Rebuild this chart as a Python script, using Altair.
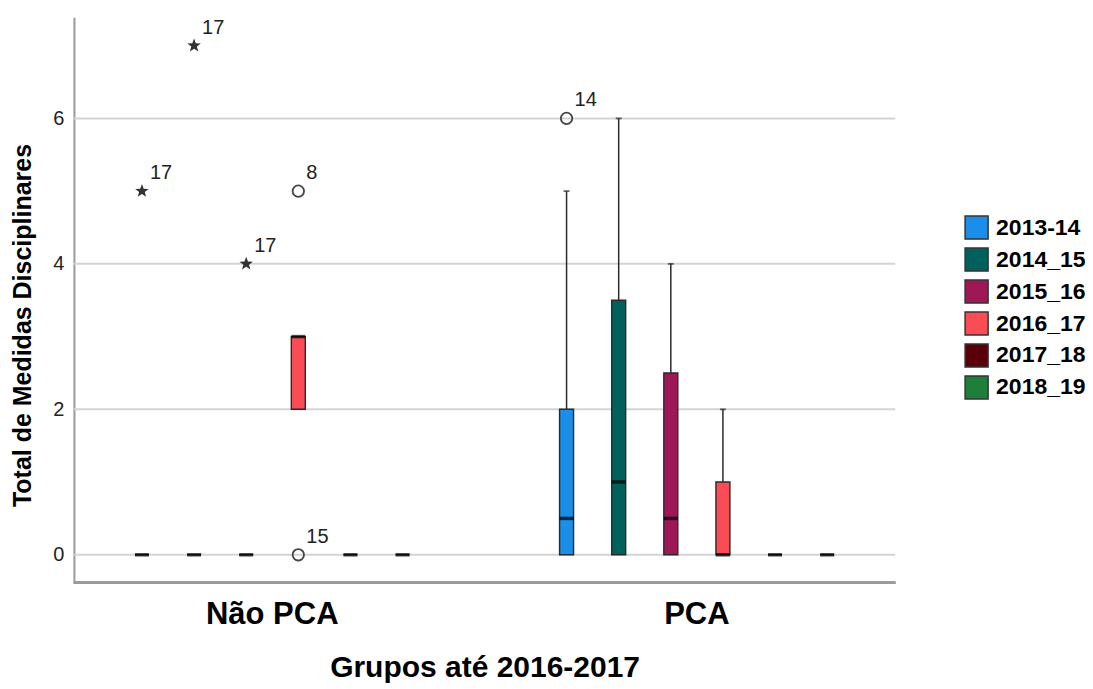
import altair as alt
import pandas as pd

FONT = "Liberation Sans"
STAR = ("M0,-1L0.247,-0.34L0.951,-0.309L0.399,0.13L0.588,0.809L0,0.42"
        "L-0.588,0.809L-0.399,0.13L-0.951,-0.309L-0.247,-0.34Z")

years = ["2013-14", "2014_15", "2015_16", "2016_17", "2017_18", "2018_19"]
colors = ["#1a8ee8", "#00605c", "#9e1858", "#fb4b55", "#5a0008", "#1e7f3b"]
group_names = ["Não PCA", "PCA"]
y_ticks = [0, 2, 4, 6]

box_group = ["Não PCA"] * 6 + ["PCA"] * 6
box_year = years * 2
q1 = [0, 0, 0, 2, 0, 0, 0, 0, 0, 0, 0, 0]
median = [0, 0, 0, 3, 0, 0, 0.5, 1, 0.5, 0, 0, 0]
q3 = [0, 0, 0, 3, 0, 0, 2, 3.5, 2.5, 1, 0, 0]
whisker_low = [0, 0, 0, 2, 0, 0, 0, 0, 0, 0, 0, 0]
whisker_high = [0, 0, 0, 3, 0, 0, 5, 6, 4, 2, 0, 0]

out_group = ["Não PCA", "Não PCA", "Não PCA", "Não PCA", "Não PCA", "PCA"]
out_year = ["2013-14", "2014_15", "2015_16", "2016_17", "2016_17", "2013-14"]
out_value = [5, 7, 4, 5, 0, 6]
out_label = ["17", "17", "17", "8", "15", "14"]
out_kind = ["extremo", "extremo", "extremo", "atipico", "atipico", "atipico"]

boxes_df = pd.DataFrame({
    "grupo": box_group, "ano": box_year, "q1": q1, "mediana": median,
    "q3": q3, "wlo": whisker_low, "whi": whisker_high,
})
out_df = pd.DataFrame({
    "grupo": out_group, "ano": out_year, "valor": out_value,
    "rotulo": out_label, "tipo": out_kind,
})
grid_df = pd.DataFrame({"g": y_ticks})

y_title = "Total de Medidas Disciplinares"
y_scale = alt.Scale(domain=[-0.385, 7.39], nice=False, zero=False)
y_axis = alt.Axis(values=y_ticks, format="d", grid=False,
                  domain=True, domainColor="#9a9a9a", domainWidth=2,
                  ticks=False, labelFontSize=20, labelFont=FONT, labelColor="#222222",
                  labelPadding=10, titleFontSize=25, titleFont=FONT,
                  titleFontWeight="bold", titleColor="#000000", titlePadding=17,
                  titleY=308)

x_enc = alt.X("grupo:N", title="Grupos até 2016-2017",
              scale=alt.Scale(domain=group_names, range=[-14, 836],
                              paddingInner=0, paddingOuter=0),
              axis=alt.Axis(domain=False, ticks=False, grid=False, labelAngle=0,
                            labelFontSize=31, labelFontWeight="bold", labelFont=FONT,
                            labelColor="#000000", labelPadding=17, titleFontSize=30,
                            titleFontWeight="bold", titleFont=FONT,
                            titleColor="#000000", titlePadding=23))
xo_enc = alt.XOffset("ano:N", scale=alt.Scale(domain=years, range=[56, 369],
                                               paddingInner=0, paddingOuter=0))

grid = alt.Chart(grid_df).mark_rule(color="#d4d4d4", strokeWidth=2).encode(
    y=alt.Y("g:Q", scale=y_scale, axis=y_axis, title=y_title),
    x=alt.value(0), x2=alt.value(822),
)

base_box = alt.Chart(boxes_df)

whisk = base_box.mark_rule(color="#2a2a2a", strokeWidth=1.5).encode(
    x=x_enc, xOffset=xo_enc,
    y=alt.Y("q3:Q", scale=y_scale, axis=y_axis, title=y_title),
    y2="whi:Q",
).transform_filter("datum.whi > datum.q3")

caps = base_box.mark_tick(color="#2a2a2a", size=6, thickness=1.8).encode(
    x=x_enc, xOffset=xo_enc,
    y=alt.Y("whi:Q", scale=y_scale, axis=y_axis, title=y_title),
).transform_filter("datum.whi > datum.q3")

bars = base_box.mark_bar(size=14, stroke="#2a2a2a", strokeWidth=1.4).encode(
    x=x_enc, xOffset=xo_enc,
    y=alt.Y("q1:Q", scale=y_scale, axis=y_axis, title=y_title),
    y2="q3:Q",
    color=alt.Color("ano:N", scale=alt.Scale(domain=years, range=colors),
                    legend=alt.Legend(title=None, orient="none", legendX=891,
                                      legendY=198, symbolType="square",
                                      symbolSize=529, symbolStrokeColor="#333333",
                                      symbolStrokeWidth=1.5, labelFontSize=23,
                                      labelFontWeight="bold", labelFont=FONT,
                                      labelColor="#000000", rowPadding=3,
                                      labelOffset=7, padding=0)),
)

meds = base_box.mark_tick(color="#000000", size=14, thickness=3.5).encode(
    x=x_enc, xOffset=xo_enc,
    y=alt.Y("mediana:Q", scale=y_scale, axis=y_axis, title=y_title),
)

base_out = alt.Chart(out_df)

circles = base_out.mark_point(shape="circle", filled=False, size=130,
                              stroke="#444444", strokeWidth=1.8, opacity=1).encode(
    x=x_enc, xOffset=xo_enc,
    y=alt.Y("valor:Q", scale=y_scale, axis=y_axis, title=y_title),
).transform_filter("datum.tipo == 'atipico'")

stars = base_out.mark_point(shape=STAR, filled=True, size=200,
                            color="#333333", opacity=1).encode(
    x=x_enc, xOffset=xo_enc,
    y=alt.Y("valor:Q", scale=y_scale, axis=y_axis, title=y_title),
).transform_filter("datum.tipo == 'extremo'")

labels = base_out.mark_text(align="left", baseline="alphabetic", dx=8, dy=-12,
                            fontSize=20, font=FONT, color="#222222").encode(
    x=x_enc, xOffset=xo_enc,
    y=alt.Y("valor:Q", scale=y_scale, axis=y_axis, title=y_title),
    text="rotulo:N",
)

bottom_line = alt.Chart(boxes_df).mark_rule(color="#9a9a9a", strokeWidth=2).encode(
    x=alt.value(0), x2=alt.value(822), y=alt.value(566),
)

chart = alt.layer(grid, whisk, caps, bars, meds, circles, stars, labels,
                  bottom_line).properties(
    width=822, height=566,
    autosize=alt.AutoSizeParams(type="none"),
    padding={"left": 66, "top": 9, "right": 190, "bottom": 104},
).configure_view(stroke=None)

chart.save("out.html", embed_options={"renderer": "svg", "actions": False})
